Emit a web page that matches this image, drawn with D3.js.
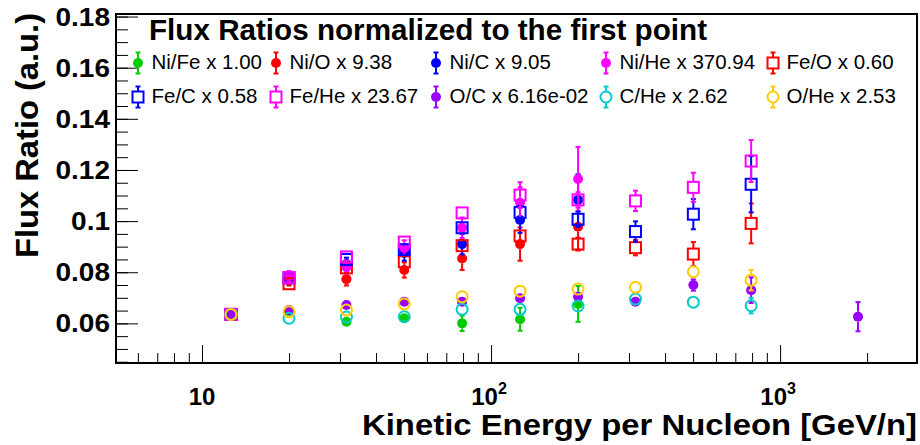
<!DOCTYPE html>
<html>
<head>
<meta charset="utf-8">
<script src="https://cdn.jsdelivr.net/npm/d3@7"></script>
<style>
  body { margin: 0; background: #fff; }
  text { font-family: "Liberation Sans", Arial, Helvetica, sans-serif; }
</style>
</head>
<body>
<script>
// bin centres (GeV/n)
const energy = [12.6, 20.0, 31.6, 50.1, 79.4, 126, 200, 316, 501, 794];
const energyOC = [12.6, 20.0, 31.6, 50.1, 79.4, 126, 200, 316, 501, 794, 1860];

// normalized ratios, with their errors
const niFe = [0.0635, 0.0648, 0.0606, 0.0620, 0.0600, 0.0616, 0.0676];
const niFeErr = [0.0012, 0.0018, 0.0015, 0.0018, 0.0030, 0.0045, 0.0070];
const niO = [0.0635, 0.0768, 0.0773, 0.0809, 0.0854, 0.0910, 0.0978];
const niOErr = [0.0012, 0.0020, 0.0025, 0.0030, 0.0045, 0.0065, 0.0090];
const niC = [0.0635, 0.0780, 0.0832, 0.0875, 0.0910, 0.1004, 0.1083];
const niCErr = [0.0012, 0.0020, 0.0025, 0.0030, 0.0040, 0.0050, 0.0100];
const niHe = [0.0635, 0.0785, 0.0820, 0.0895, 0.0974, 0.1072, 0.1165];
const niHeErr = [0.0012, 0.0020, 0.0025, 0.0030, 0.0040, 0.0060, 0.0125];
const feO = [0.0635, 0.0755, 0.0817, 0.0841, 0.0904, 0.0942, 0.0910, 0.0896, 0.0871, 0.0991];
const feOErr = [0.0008, 0.0010, 0.0012, 0.0015, 0.0018, 0.0022, 0.0025, 0.0030, 0.0047, 0.0078];
const feC = [0.0635, 0.0778, 0.0850, 0.0888, 0.0974, 0.1034, 0.1007, 0.0959, 0.1027, 0.1144];
const feCErr = [0.0008, 0.0010, 0.0012, 0.0015, 0.0020, 0.0025, 0.0030, 0.0040, 0.0059, 0.0110];
const feHe = [0.0635, 0.0779, 0.0860, 0.0918, 0.1032, 0.1102, 0.1083, 0.1079, 0.1132, 0.1235];
const feHeErr = [0.0008, 0.0010, 0.0012, 0.0015, 0.0020, 0.0050, 0.0030, 0.0040, 0.0057, 0.0082];
const oC = [0.0635, 0.0652, 0.0672, 0.0685, 0.0685, 0.0698, 0.0704, 0.0685, 0.0750, 0.0730, 0.0626];
const oCErr = [0.0008, 0.0008, 0.0010, 0.0010, 0.0012, 0.0012, 0.0015, 0.0015, 0.0022, 0.0050, 0.0057];
const cHe = [0.0635, 0.0620, 0.0625, 0.0626, 0.0655, 0.0655, 0.0668, 0.0695, 0.0683, 0.0669];
const cHeErr = [0.0006, 0.0006, 0.0007, 0.0008, 0.0008, 0.0010, 0.0012, 0.0014, 0.0016, 0.0030];
const oHe = [0.0635, 0.0645, 0.0652, 0.0676, 0.0704, 0.0726, 0.0734, 0.0741, 0.0802, 0.0769];
const oHeErr = [0.0006, 0.0006, 0.0007, 0.0008, 0.0008, 0.0010, 0.0012, 0.0014, 0.0018, 0.0040];

const legendLabels = ["Ni/Fe x 1.00", "Ni/O x 9.38", "Ni/C x 9.05", "Ni/He x 370.94", "Fe/O x 0.60",
    "Fe/C x 0.58", "Fe/He x 23.67", "O/C x 6.16e-02", "C/He x 2.62", "O/He x 2.53"];
const yTicks = [0.06, 0.08, 0.10, 0.12, 0.14, 0.16, 0.18];
const yTickLabels = ["0.06", "0.08", "0.1", "0.12", "0.14", "0.16", "0.18"];
const xTicks = [10, 100, 1000];
const xTickLabels = [["10", ""], ["10", "2"], ["10", "3"]];

const width = 920, height = 445;
const frame = { left: 116, right: 917, top: 14, bottom: 363 };

const svg = d3.select("body").append("svg")
    .attr("width", width).attr("height", height);

const x = d3.scaleLog().domain([5.04, 2976]).range([frame.left, frame.right]);
const y = d3.scaleLinear().domain([0.0445, 0.181]).range([frame.bottom, frame.top]);

// y axis: ticks point into the frame
const yMinor = d3.range(0.045, 0.1801, 0.005);
svg.append("g")
    .attr("transform", `translate(${frame.left},0)`)
    .call(d3.axisLeft(y).tickValues(yMinor).tickSize(-12).tickFormat(""))
    .call(g => g.select(".domain").remove());
svg.append("g")
    .attr("transform", `translate(${frame.left},0)`)
    .call(d3.axisLeft(y).tickValues(yTicks).tickSize(-22).tickFormat(""))
    .call(g => g.select(".domain").remove());

// y tick labels, drawn by hand so they can be widened like the reference glyphs
yTicks.forEach((t, i) => {
    const lab = svg.append("text")
        .attr("x", frame.left - 6).attr("y", y(t)).attr("dy", "0.36em")
        .attr("text-anchor", "end")
        .attr("font-size", 25).attr("font-weight", "bold")
        .text(yTickLabels[i]);
    const w = lab.node().getComputedTextLength();
    lab.attr("textLength", w * 1.12).attr("lengthAdjust", "spacingAndGlyphs");
});

// x axis
const xMinor = [6, 7, 8, 9, 20, 30, 40, 50, 60, 70, 80, 90,
    200, 300, 400, 500, 600, 700, 800, 900, 2000];
svg.append("g")
    .attr("transform", `translate(0,${frame.bottom})`)
    .call(d3.axisBottom(x).tickValues(xMinor).tickSize(-10).tickFormat(""))
    .call(g => g.select(".domain").remove());
svg.append("g")
    .attr("transform", `translate(0,${frame.bottom})`)
    .call(d3.axisBottom(x).tickValues(xTicks).tickSize(-18).tickFormat(""))
    .call(g => g.select(".domain").remove());

xTicks.forEach((t, i) => {
    const lab = svg.append("text")
        .attr("x", x(t) - (xTickLabels[i][1] ? 2 : 0)).attr("y", 405)
        .attr("text-anchor", "middle")
        .attr("font-size", 24).attr("font-weight", "bold");
    lab.append("tspan").text(xTickLabels[i][0]);
    if (xTickLabels[i][1]) {
        lab.append("tspan").attr("font-size", 16).attr("dy", -11).text(xTickLabels[i][1]);
    }
});

// frame
svg.append("rect")
    .attr("x", frame.left).attr("y", frame.top)
    .attr("width", frame.right - frame.left).attr("height", frame.bottom - frame.top)
    .attr("fill", "none").attr("stroke", "#000").attr("stroke-width", 2);

// axis titles
svg.append("text")
    .attr("x", frame.right).attr("y", 435)
    .attr("text-anchor", "end")
    .attr("font-size", 30).attr("font-weight", "bold")
    .attr("textLength", 555).attr("lengthAdjust", "spacingAndGlyphs")
    .text("Kinetic Energy per Nucleon [GeV/n]");

svg.append("text")
    .attr("transform", "translate(38,13) rotate(-90)")
    .attr("text-anchor", "end")
    .attr("font-size", 31).attr("font-weight", "bold")
    .attr("textLength", 245).attr("lengthAdjust", "spacingAndGlyphs")
    .text("Flux Ratio (a.u.)");

svg.append("text")
    .attr("x", 149).attr("y", 39.5)
    .attr("font-size", 29).attr("font-weight", "bold")
    .attr("textLength", 558).attr("lengthAdjust", "spacingAndGlyphs")
    .text("Flux Ratios normalized to the first point");

// series table built from the arrays above
const series = [
    { x: energy, v: niFe, e: niFeErr, color: "#00cc00", marker: "dot" },
    { x: energy, v: niO, e: niOErr, color: "#ff0000", marker: "dot" },
    { x: energy, v: niC, e: niCErr, color: "#0000ff", marker: "dot" },
    { x: energy, v: niHe, e: niHeErr, color: "#ff00ff", marker: "dot" },
    { x: energy, v: feO, e: feOErr, color: "#ff0000", marker: "square" },
    { x: energy, v: feC, e: feCErr, color: "#0000ff", marker: "square" },
    { x: energy, v: feHe, e: feHeErr, color: "#ff00ff", marker: "square" },
    { x: energyOC, v: oC, e: oCErr, color: "#9900ff", marker: "dot" },
    { x: energy, v: cHe, e: cHeErr, color: "#00cccc", marker: "circle" },
    { x: energy, v: oHe, e: oHeErr, color: "#ffcc00", marker: "circle" }
];
series.forEach((s, i) => s.label = legendLabels[i]);

const markerHalf = { dot: 5, square: 6, circle: 6 };

function drawMarker(g, type, cx, cy, color) {
    if (type === "dot") {
        g.append("circle").attr("cx", cx).attr("cy", cy).attr("r", 5).attr("fill", color);
    } else if (type === "square") {
        g.append("rect").attr("x", cx - 5.5).attr("y", cy - 5.5)
            .attr("width", 11).attr("height", 11)
            .attr("fill", "none").attr("stroke", color).attr("stroke-width", 2);
    } else {
        g.append("circle").attr("cx", cx).attr("cy", cy).attr("r", 5.5)
            .attr("fill", "none").attr("stroke", color).attr("stroke-width", 2);
    }
}

function drawErr(g, cx, cy, yTop, yBot, half, color) {
    const cap = 2.5;
    if (yTop < cy - half) {
        g.append("line").attr("x1", cx).attr("x2", cx).attr("y1", cy - half).attr("y2", yTop)
            .attr("stroke", color).attr("stroke-width", 2);
        g.append("line").attr("x1", cx - cap).attr("x2", cx + cap).attr("y1", yTop).attr("y2", yTop)
            .attr("stroke", color).attr("stroke-width", 2);
    }
    if (yBot > cy + half) {
        g.append("line").attr("x1", cx).attr("x2", cx).attr("y1", cy + half).attr("y2", yBot)
            .attr("stroke", color).attr("stroke-width", 2);
        g.append("line").attr("x1", cx - cap).attr("x2", cx + cap).attr("y1", yBot).attr("y2", yBot)
            .attr("stroke", color).attr("stroke-width", 2);
    }
}

const plot = svg.append("g");
series.forEach(s => {
    const g = plot.append("g");
    s.v.forEach((v, j) => {
        const cx = x(s.x[j]), cy = y(v);
        drawErr(g, cx, cy, y(v + s.e[j]), y(v - s.e[j]), markerHalf[s.marker], s.color);
        drawMarker(g, s.marker, cx, cy, s.color);
    });
});

// legend, two rows of five
const legCols = [138, 276, 436, 606, 773];
const legRows = [63, 97];
series.forEach((s, i) => {
    const cx = legCols[i % 5], cy = legRows[Math.floor(i / 5)];
    const g = svg.append("g");
    drawErr(g, cx, cy, cy - 10.5, cy + 10.5, markerHalf[s.marker], s.color);
    drawMarker(g, s.marker, cx, cy, s.color);
    g.append("text")
        .attr("x", cx + 13.5).attr("y", cy + 6)
        .attr("font-size", 20.5)
        .text(s.label);
});
</script>
</body>
</html>
